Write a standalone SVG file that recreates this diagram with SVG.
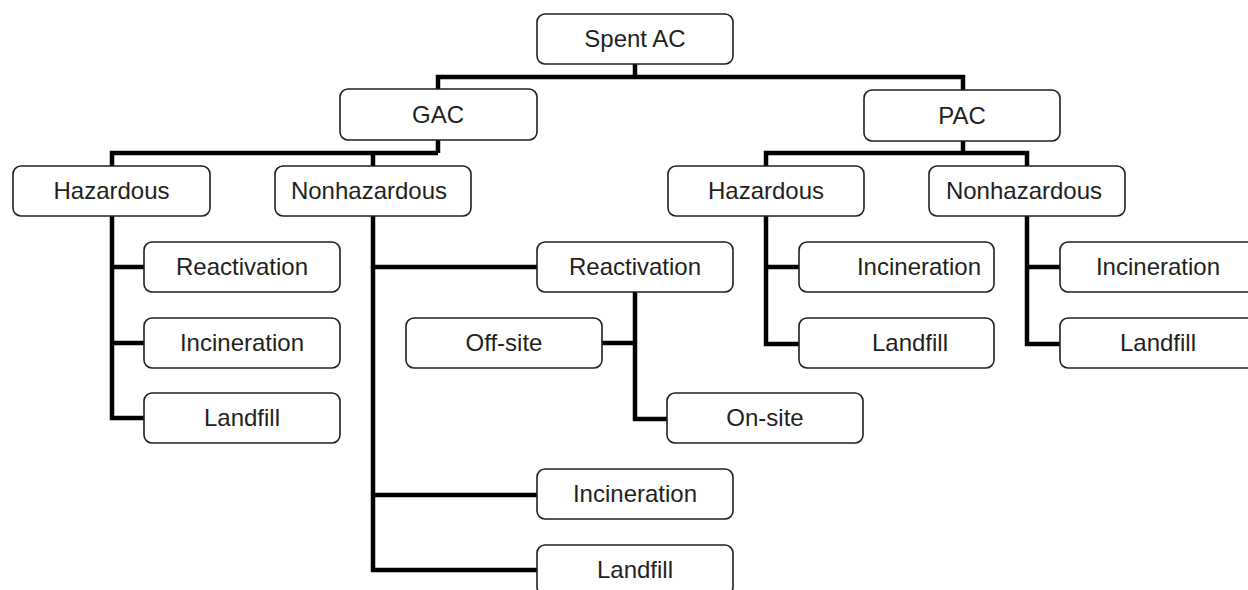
<svg xmlns="http://www.w3.org/2000/svg" width="1248" height="590" viewBox="0 0 1248 590">
<style>
.b{fill:#fff;stroke:#231f20;stroke-width:1.6}
.t{font-family:"Liberation Sans",Arial,sans-serif;font-size:24px;fill:#231f20;text-anchor:middle}
.c{fill:none;stroke:#000;stroke-width:4.5;stroke-linejoin:miter}
</style>
<rect width="1248" height="590" fill="#fff"/>
<g id="connectors" class="c">
<path d="M635,64 V77 M438,89 V77 H963 V90"/>
<path d="M438,140 V153 M112,166 V153 H438 M373,153 V166"/>
<path d="M963,141 V153 M766,166 V153 H1027 V166"/>
<path d="M112,216 V418 H144 M112,267 H144 M112,343 H144"/>
<path d="M373,216 V570 H537 M373,267 H537 M373,495 H537"/>
<path d="M635,292 V419 H667 M602,343 H635"/>
<path d="M766,216 V344 H799 M766,267 H799"/>
<path d="M1027,216 V344 H1060 M1027,267 H1060"/>
</g>
<g id="spent-ac"><rect class="b" x="537" y="14" width="196" height="50" rx="8"/><text class="t" x="635" y="47">Spent AC</text></g>
<g id="gac"><rect class="b" x="340" y="89" width="197" height="51" rx="8"/><text class="t" x="438" y="123">GAC</text></g>
<g id="pac"><rect class="b" x="864" y="90" width="196" height="51" rx="8"/><text class="t" x="962" y="124">PAC</text></g>
<g id="gac-haz"><rect class="b" x="13" y="166" width="197" height="50" rx="8"/><text class="t" x="111.5" y="199">Hazardous</text></g>
<g id="gac-nonhaz"><rect class="b" x="275" y="166" width="196" height="50" rx="8"/><text class="t" x="369" y="199">Nonhazardous</text></g>
<g id="pac-haz"><rect class="b" x="668" y="166" width="196" height="50" rx="8"/><text class="t" x="766" y="199">Hazardous</text></g>
<g id="pac-nonhaz"><rect class="b" x="929" y="166" width="196" height="50" rx="8"/><text class="t" x="1024" y="199">Nonhazardous</text></g>
<g id="gac-haz-react"><rect class="b" x="144" y="242" width="196" height="50" rx="8"/><text class="t" x="242" y="275">Reactivation</text></g>
<g id="gac-haz-incin"><rect class="b" x="144" y="318" width="196" height="50" rx="8"/><text class="t" x="242" y="351">Incineration</text></g>
<g id="gac-haz-land"><rect class="b" x="144" y="393" width="196" height="50" rx="8"/><text class="t" x="242" y="426">Landfill</text></g>
<g id="gac-nonhaz-react"><rect class="b" x="537" y="242" width="196" height="50" rx="8"/><text class="t" x="635" y="275">Reactivation</text></g>
<g id="offsite"><rect class="b" x="406" y="318" width="196" height="50" rx="8"/><text class="t" x="504" y="351">Off-site</text></g>
<g id="onsite"><rect class="b" x="667" y="393" width="196" height="50" rx="8"/><text class="t" x="765" y="426">On-site</text></g>
<g id="gac-nonhaz-incin"><rect class="b" x="537" y="469" width="196" height="50" rx="8"/><text class="t" x="635" y="502">Incineration</text></g>
<g id="gac-nonhaz-land"><rect class="b" x="537" y="545" width="196" height="50" rx="8"/><text class="t" x="635" y="578">Landfill</text></g>
<g id="pac-haz-incin"><rect class="b" x="799" y="242" width="195" height="50" rx="8"/><text class="t" x="919" y="275">Incineration</text></g>
<g id="pac-haz-land"><rect class="b" x="799" y="318" width="195" height="50" rx="8"/><text class="t" x="910" y="351">Landfill</text></g>
<g id="pac-nonhaz-incin"><rect class="b" x="1060" y="242" width="196" height="50" rx="8"/><text class="t" x="1158" y="275">Incineration</text></g>
<g id="pac-nonhaz-land"><rect class="b" x="1060" y="318" width="196" height="50" rx="8"/><text class="t" x="1158" y="351">Landfill</text></g>
</svg>
